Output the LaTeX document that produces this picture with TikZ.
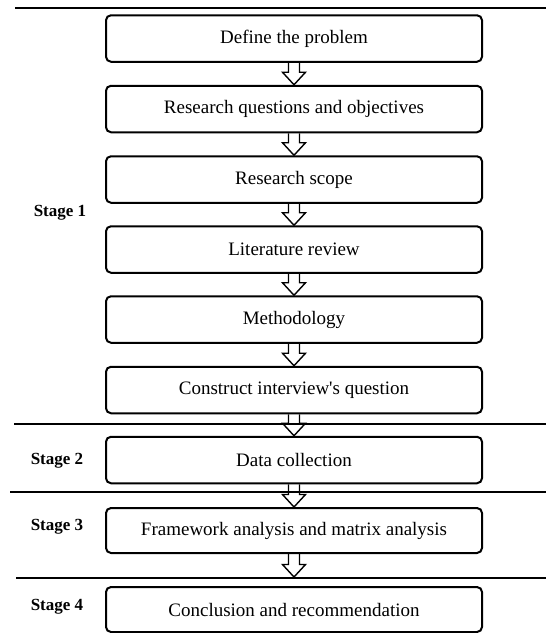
\documentclass[tikz,border=0pt]{standalone}
\usepackage{fontspec}
\setmainfont{Liberation Serif}
\usetikzlibrary{calc}
\tikzset{
  stepbox/.style={draw, line width=2pt, rounded corners=5pt, minimum width=376pt,
    minimum height=46.5pt, inner sep=0pt, align=center,
    font=\fontsize{19}{22}\selectfont},
  stagelabel/.style={inner sep=0pt, font=\bfseries\fontsize{17}{20}\selectfont},
  sepline/.style={line width=1.6pt},
  arrowline/.style={line width=1.4pt, line join=miter},
}
\newcommand{\hollowarrow}[2]{\draw[arrowline] let \p1=(#1), \p2=(#2) in
  (\x1-5.5pt,\y1) -- (\x1-5.5pt,\y2+12.5pt) -- (\x1-11.5pt,\y2+12.5pt) -- (\x1,\y2)
  -- (\x1+11.5pt,\y2+12.5pt) -- (\x1+5.5pt,\y2+12.5pt) -- (\x1+5.5pt,\y1);}
\begin{document}
\begin{tikzpicture}[x=1pt,y=-1pt]
\useasboundingbox[fill=white] (0,0) rectangle (546,633);
% separator lines
\coordinate (s1a) at (15,8);   \coordinate (s1b) at (546,8);
\coordinate (s2a) at (14,424); \coordinate (s2b) at (546,424);
\coordinate (s3a) at (10,492); \coordinate (s3b) at (546,492);
\coordinate (s4a) at (16,578); \coordinate (s4b) at (546,578);
\draw[sepline] (s1a) -- (s1b);
\draw[sepline] (s2a) -- (s2b);
\draw[sepline] (s3a) -- (s3b);
\draw[sepline] (s4a) -- (s4b);
% boxes
\node[stepbox] (b1) at (294,38.5) {Define the problem};
\node[stepbox] (b2) at (294,109) {Research questions and objectives};
\node[stepbox] (b3) at (294,179.5) {Research scope};
\node[stepbox] (b4) at (294,249.5) {Literature review};
\node[stepbox] (b5) at (294,319.5) {Methodology};
\node[stepbox] (b6) at (294,390) {Construct interview\textquotesingle s question};
\node[stepbox] (b7) at (294,460) {Data collection};
\node[stepbox, minimum height=45pt] (b8) at (294,530.5) {Framework analysis and matrix analysis};
\node[stepbox, minimum height=45pt] (b9) at (294,609.5) {Conclusion and recommendation};
% stage labels
\node[stagelabel] (st1) at (60,213) {Stage 1};
\node[stagelabel] (st2) at (57,461) {Stage 2};
\node[stagelabel] (st3) at (57,527) {Stage 3};
\node[stagelabel] (st4) at (57,607) {Stage 4};
% arrows
\coordinate (e9) at (294,577);
\hollowarrow{b1.south}{b2.north}
\hollowarrow{b2.south}{b3.north}
\hollowarrow{b3.south}{b4.north}
\hollowarrow{b4.south}{b5.north}
\hollowarrow{b5.south}{b6.north}
\hollowarrow{b6.south}{b7.north}
\hollowarrow{b7.south}{b8.north}
\hollowarrow{b8.south}{e9}
\end{tikzpicture}
\end{document}
